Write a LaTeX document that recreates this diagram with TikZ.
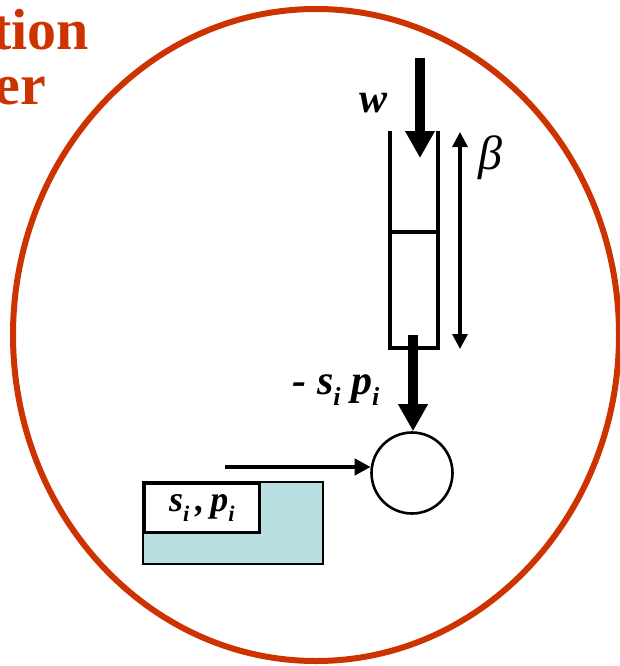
\documentclass[tikz,border=0pt]{standalone}
\usepackage{fontspec}
\setmainfont{Liberation Serif}
\usetikzlibrary{arrows.meta}
\definecolor{rustred}{HTML}{CC3300}
\definecolor{paleteal}{HTML}{BADFE2}
\newcommand{\bsub}[2]{{\bfseries\itshape #1\raisebox{-0.28em}{\fontsize{0.62em}{0.7em}\selectfont #2}}}
\begin{document}
\begin{tikzpicture}[x=1pt,y=-1pt,
  thinline/.style={line width=3.6pt},
  heavyarrow/.style={line width=10pt,-{Triangle[length=27pt,width=28pt]}},
  medarrow/.style={line width=4.2pt,-{Triangle[length=16pt,width=16pt]}},
  dblarrow/.style={line width=3.2pt,{Triangle[length=15pt,width=15pt]}-{Triangle[length=15pt,width=15pt]}},
  lbl/.style={inner sep=0pt,font=\fontsize{42}{46}\selectfont\bfseries\itshape},
  title/.style={inner sep=0pt,text=rustred,font=\fontsize{58}{62}\selectfont\bfseries}]
\useasboundingbox (0,0) rectangle (619,666);
% title fragments
\node[title,anchor=base east] (t1) at (89,50) {tion};
\node[title,anchor=base east] (t2) at (46,105) {er};
% big ellipse
\draw[rustred,line width=6pt] (316,335) ellipse [x radius=303, y radius=326];
% cylinder
\draw[thinline] (390,131) -- (390,348) -- (438,348) -- (438,131);
\draw[thinline] (390,232) -- (438,232);
% arrows
\coordinate (wtop) at (420,58);
\coordinate (wtip) at (420,158);
\draw[heavyarrow] (wtop) -- (wtip);
\node[lbl,anchor=base] (w) at (374,113) {w};
\coordinate (b1) at (460,132);
\coordinate (b2) at (460,349);
\draw[dblarrow] (b1) -- (b2);
\node[inner sep=0pt,font=\fontsize{48}{52}\selectfont\itshape] (beta) at (490,158) {β};
% junction circle
\node[draw,circle,line width=2.6pt,minimum size=81pt,inner sep=0pt] (sum) at (412,473) {};
\coordinate (ptop) at (413,335);
\draw[heavyarrow] (ptop) -- (ptop |- sum.north);
\node[lbl,anchor=base] (sp) at (336,394) {- \bsub{s}{i} \bsub{p}{i}};
% storage box
\fill[paleteal] (143,482) rectangle (323,564);
\draw[line width=2.8pt] (143,482) rectangle (323,564);
\node[draw,fill=white,line width=2.8pt,anchor=north west,minimum width=115pt,minimum height=49pt,inner sep=0pt,font=\fontsize{36}{40}\selectfont] (store) at (143,482) {\bsub{s}{i}\,\textbf{\textit{,}}\,\bsub{p}{i}};
\coordinate (hin) at (225,467);
\draw[medarrow] (hin) -- ([xshift=0.5pt]hin -| sum.west);
\end{tikzpicture}
\end{document}
